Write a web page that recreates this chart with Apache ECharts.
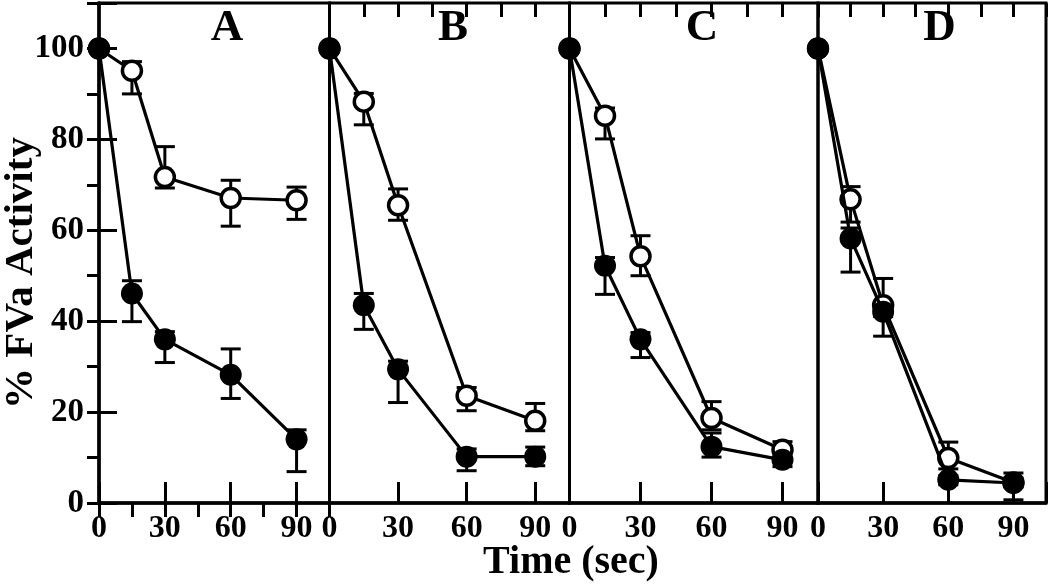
<!DOCTYPE html>
<html>
<head>
<meta charset="utf-8">
<script src="https://cdn.jsdelivr.net/npm/echarts@6/dist/echarts.min.js"></script>
<style>html,body{margin:0;padding:0;background:#fff;}#c{width:1050px;height:587px;}</style>
</head>
<body>
<div id="c"></div>
<script>
// ---- data ----
const times = [0, 15, 30, 60, 90];
const panelNames = ['A', 'B', 'C', 'D'];
const xTickLabels = [0, 30, 60, 90];
const yTickLabels = [0, 20, 40, 60, 80, 100];

const openA = [100, 95.1, 71.7, 67.1, 66.6];
const openALow = [100, 90.0, 69.3, 60.9, 62.4];
const openAHigh = [100, 97.1, 78.4, 71.0, 69.5];
const filledA = [100, 46.1, 36.0, 28.2, 14.0];
const filledALow = [100, 39.9, 30.9, 23.0, 6.9];
const filledAHigh = [100, 48.9, 37.7, 33.9, 16.1];

const openB = [100, 88.3, 65.5, 23.6, 18.1];
const openBLow = [100, 83.2, 62.2, 20.3, 15.9];
const openBHigh = [100, 90.1, 69.1, 25.4, 21.9];
const filledB = [100, 43.5, 29.4, 10.2, 10.2];
const filledBLow = [100, 38.2, 22.1, 7.1, 8.2];
const filledBHigh = [100, 46.1, 31.2, 11.9, 12.3];

const openC = [100, 85.2, 54.3, 18.7, 11.7];
const openCLow = [100, 80.1, 50.0, 16.1, 10.0];
const openCHigh = [100, 86.9, 58.8, 22.3, 13.5];
const filledC = [100, 52.2, 36.0, 12.4, 9.5];
const filledCLow = [100, 45.9, 32.0, 10.1, 8.0];
const filledCHigh = [100, 54.0, 37.5, 15.4, 11.0];

const openD = [100, 66.8, 43.5, 9.9, 4.5];
const openDLow = [100, 61.8, 41.0, 7.5, 3.5];
const openDHigh = [100, 69.6, 49.4, 13.4, 5.5];
const filledD = [100, 58.2, 42.1, 5.1, 4.4];
const filledDLow = [100, 50.8, 36.7, 4.0, 0.7];
const filledDHigh = [100, 60.5, 44.0, 6.0, 6.6];

const panels = [
  {open: openA, openLow: openALow, openHigh: openAHigh, filled: filledA, filledLow: filledALow, filledHigh: filledAHigh},
  {open: openB, openLow: openBLow, openHigh: openBHigh, filled: filledB, filledLow: filledBLow, filledHigh: filledBHigh},
  {open: openC, openLow: openCLow, openHigh: openCHigh, filled: filledC, filledLow: filledCLow, filledHigh: filledCHigh},
  {open: openD, openLow: openDLow, openHigh: openDHigh, filled: filledD, filledLow: filledDLow, filledHigh: filledDHigh}
];

// ---- layout / style ----
const FONT = "'Liberation Serif', 'Times New Roman', serif";
const gridBoxes = [
  {left: 99, width: 230.5},
  {left: 329.5, width: 240},
  {left: 569.5, width: 248.5},
  {left: 818, width: 228}
];
const TOP = 3, HEIGHT = 500;
const letterX = [227, 453, 702, 939.5];

const grids = gridBoxes.map(g => ({
  left: g.left, width: g.width, top: TOP, height: HEIGHT,
  show: true, borderColor: '#000', borderWidth: 3, backgroundColor: 'transparent'
}));

const xAxes = [];
const yAxes = [];
gridBoxes.forEach((g, i) => {
  xAxes.push({
    type: 'value', gridIndex: i, min: 0, max: 105, interval: 30,
    axisLine: {show: true, lineStyle: {color: '#000', width: 3.5}},
    axisTick: {show: true, inside: true, length: 21, lineStyle: {color: '#000', width: 3}},
    splitLine: {show: false},
    axisLabel: {
      show: true, margin: 10, color: '#000', fontFamily: FONT, fontWeight: 'bold', fontSize: 32,
      formatter: v => xTickLabels.indexOf(v) >= 0 ? String(v) : ''
    }
  });
  xAxes.push({
    type: 'value', gridIndex: i, min: 0, max: 105, interval: 15,
    axisLine: {show: false},
    axisTick: {show: true, inside: true, length: 14, lineStyle: {color: '#000', width: 3}},
    splitLine: {show: false},
    axisLabel: {show: false}
  });
  yAxes.push({
    type: 'value', gridIndex: i, min: 0, max: 110, interval: 20, show: i === 0,
    axisLine: {show: true, lineStyle: {color: '#000', width: 3.5}},
    axisTick: {show: true, inside: true, length: 18, lineStyle: {color: '#000', width: 3}},
    splitLine: {show: false},
    axisLabel: {
      show: true, margin: 15, color: '#000', fontFamily: FONT, fontWeight: 'bold', fontSize: 33,
      formatter: v => yTickLabels.indexOf(v) >= 0 ? String(v) : ''
    }
  });
});
yAxes.push({
  type: 'value', gridIndex: 0, min: 0, max: 110, interval: 10,
  axisLine: {show: false},
  axisTick: {show: true, inside: true, length: 12, lineStyle: {color: '#000', width: 3}},
  splitLine: {show: false},
  axisLabel: {show: false}
});

function errRender(params, api) {
  const x = api.value(0), lo = api.value(1), hi = api.value(2);
  if (lo === hi) return null;
  const pt = api.coord([x, hi]);
  const pb = api.coord([x, lo]);
  const w = 10;
  const st = {stroke: '#000', lineWidth: 3};
  return {
    type: 'group',
    children: [
      {type: 'line', shape: {x1: pt[0], y1: pt[1], x2: pb[0], y2: pb[1]}, style: st},
      {type: 'line', shape: {x1: pt[0] - w, y1: pt[1], x2: pt[0] + w, y2: pt[1]}, style: st},
      {type: 'line', shape: {x1: pb[0] - w, y1: pb[1], x2: pb[0] + w, y2: pb[1]}, style: st}
    ]
  };
}

const series = [];
panels.forEach((p, i) => {
  const xi = 2 * i, yi = i;
  series.push({
    type: 'custom', xAxisIndex: xi, yAxisIndex: yi, z: 2, renderItem: errRender,
    data: times.map((t, k) => [t, p.openLow[k], p.openHigh[k]]), silent: true
  });
  series.push({
    type: 'custom', xAxisIndex: xi, yAxisIndex: yi, z: 2, renderItem: errRender,
    data: times.map((t, k) => [t, p.filledLow[k], p.filledHigh[k]]), silent: true
  });
  series.push({
    type: 'line', xAxisIndex: xi, yAxisIndex: yi, z: 3, clip: false,
    data: times.map((t, k) => [t, p.open[k]]),
    symbol: 'circle', symbolSize: 19, showSymbol: true,
    lineStyle: {color: '#000', width: 3.2},
    itemStyle: {color: '#fff', borderColor: '#000', borderWidth: 3.5},
    animation: false, silent: true
  });
  series.push({
    type: 'line', xAxisIndex: xi, yAxisIndex: yi, z: 4, clip: false,
    data: times.map((t, k) => [t, p.filled[k]]),
    symbol: 'circle', symbolSize: 22, showSymbol: true,
    lineStyle: {color: '#000', width: 3.2},
    itemStyle: {color: '#000', borderColor: '#000', borderWidth: 0},
    animation: false, silent: true
  });
});

const graphics = panelNames.map((n, i) => ({
  type: 'text', x: letterX[i], y: 28,
  style: {text: n, x: 0, y: 0, textAlign: 'center', textVerticalAlign: 'middle',
    font: "bold 45px 'Liberation Serif', 'Times New Roman', serif", fill: '#000'}
}));
graphics.push({
  type: 'text', x: 21, y: 273, rotation: Math.PI / 2,
  style: {text: '% FVa Activity', textAlign: 'center', textVerticalAlign: 'middle',
    font: "bold 41px 'Liberation Serif', 'Times New Roman', serif", fill: '#000'}
});
graphics.push({
  type: 'text', x: 571, y: 563,
  style: {text: 'Time (sec)', textAlign: 'center', textVerticalAlign: 'middle',
    font: "bold 40px 'Liberation Serif', 'Times New Roman', serif", fill: '#000'}
});

const chart = echarts.init(document.getElementById('c'));
chart.setOption({
  animation: false,
  backgroundColor: '#fff',
  grid: grids,
  xAxis: xAxes,
  yAxis: yAxes,
  series: series,
  graphic: graphics
});
</script>
</body>
</html>
